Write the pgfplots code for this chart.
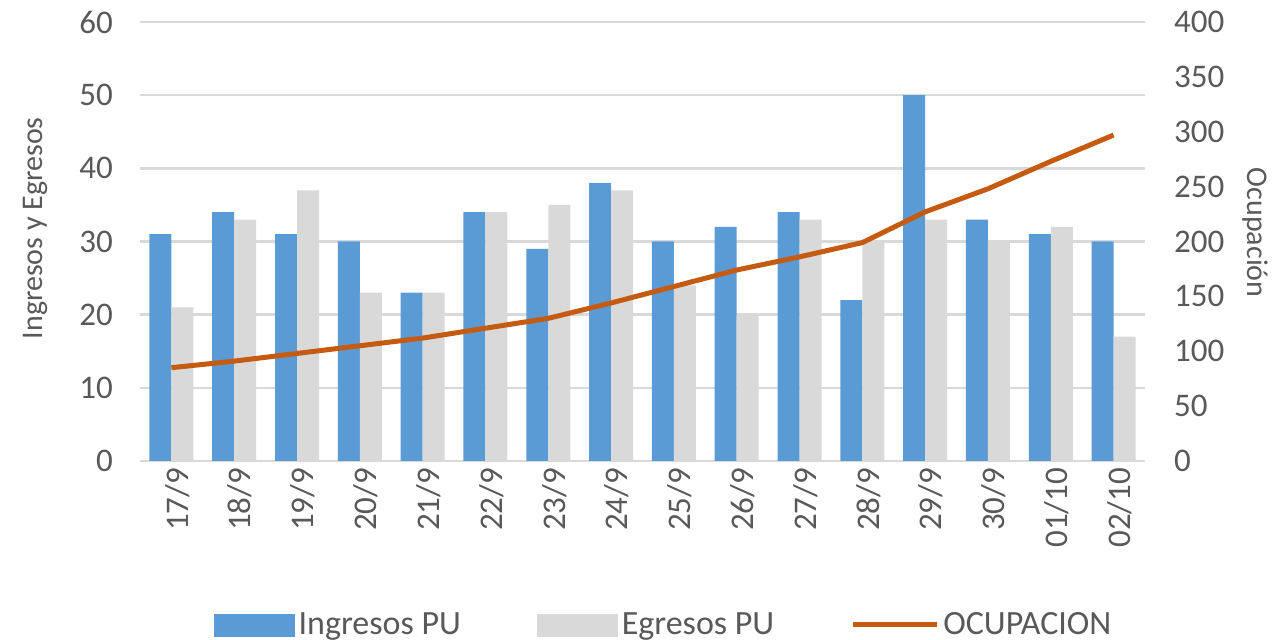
\documentclass[border=0pt]{standalone}
\usepackage{pgfplots}
\usepackage{pgfplotstable}
\pgfplotsset{compat=1.18}
\usepackage{fontspec}
\setmainfont{Carlito}
\definecolor{cblue}{HTML}{5B9BD5}
\definecolor{cgray}{HTML}{D9D9D9}
\definecolor{corange}{HTML}{C55A11}
\definecolor{ctext}{HTML}{595959}
\definecolor{cgrid}{HTML}{D9D9D9}

\pgfplotstableread{
x ing egr ocu
0 31 21 85
1 34 33 91
2 31 37 98
3 30 23 105
4 23 23 112
5 34 34 121
6 29 35 130
7 38 37 144
8 30 24 159
9 32 20 174
10 34 33 186
11 22 30 199
12 50 33 227
13 33 30 248
14 31 32 273
15 30 17 297
}\datatable

\begin{document}
\begin{tikzpicture}
\path[use as bounding box] (-70pt,-89.5pt) rectangle (566.5pt,230.5pt);
\pgfplotsset{every axis/.append style={
  scale only axis, width=502.5pt, height=219.5pt,
  xmin=-0.5, xmax=15.5,
  major tick length=0pt,
  /pgf/number format/assume math mode=true,
  tick label style={font=\fontsize{16.5}{19}\selectfont, text=ctext},
  label style={font=\fontsize{15}{18}\selectfont, text=ctext},
}}
\begin{axis}[
  ybar=0pt, bar width=11pt,
  ymin=0, ymax=60, ytick={0,10,...,60},
  xtick={0,...,15},
  xticklabels={17/9,18/9,19/9,20/9,21/9,22/9,23/9,24/9,25/9,26/9,27/9,28/9,29/9,30/9,01/10,02/10},
  axis x line*=bottom, axis y line*=left,
  x axis line style={draw=cgrid, line width=1.2pt, -},
  y axis line style={draw=none},
  ymajorgrids, grid style={draw=cgrid, line width=1.2pt},
  xticklabel style={rotate=90, anchor=east, yshift=-3pt},
  yticklabel style={anchor=east, xshift=-10pt},
  ylabel={Ingresos y Egresos},
  ylabel style={at={(axis description cs:-0.1045,0.53)}, anchor=center},
]
\addplot[fill=cblue, draw=none] table[x=x,y=ing]{\datatable};
\addplot[fill=cgray, draw=none] table[x=x,y=egr]{\datatable};
\end{axis}
\begin{axis}[
  ymin=0, ymax=400, ytick={0,50,...,400},
  axis y line*=right, axis x line=none,
  y axis line style={draw=none},
  yticklabel style={anchor=west, xshift=11pt},
  ylabel={Ocupación},
  ylabel style={at={(axis description cs:1.1095,0.52)}, anchor=center, rotate=180},
  legend columns=3,
  legend style={at={(axis description cs:0.522,0)}, anchor=center, yshift=-82pt,
    draw=none, fill=none, font=\fontsize{17}{20}\selectfont, text=ctext,
    /tikz/every even column/.append style={column sep=36pt}},
]
\addlegendimage{legend image code/.code={\fill[cblue] (0pt,-5.5pt) rectangle (40pt,5.5pt);}}
\addlegendentry{Ingresos PU}
\addlegendimage{legend image code/.code={\fill[cgray] (0pt,-5.5pt) rectangle (40pt,5.5pt);}}
\addlegendentry{Egresos PU}
\addplot[corange, line width=2.5pt, legend image code/.code={\draw[corange, line width=2.5pt] (0pt,0pt) -- (42pt,0pt);}] table[x=x,y=ocu]{\datatable};
\addlegendentry{OCUPACION}
\end{axis}
\end{tikzpicture}
\end{document}
